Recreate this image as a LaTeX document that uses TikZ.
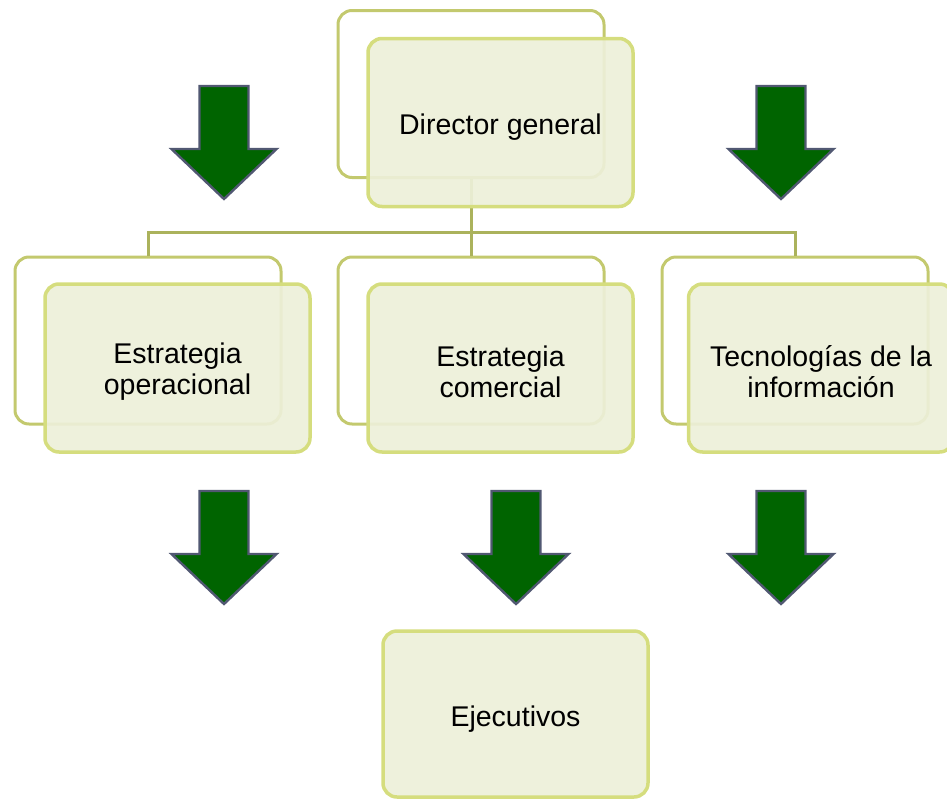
\documentclass[tikz,border=0pt]{standalone}
\usepackage{fontspec}
\setmainfont{Liberation Sans}
\definecolor{backline}{HTML}{C3C96E}
\definecolor{frontline}{HTML}{D5DD7E}
\definecolor{boxfill}{HTML}{EDF0D9}
\definecolor{busline}{HTML}{ABB25C}
\definecolor{arrfill}{HTML}{006400}
\definecolor{arrline}{HTML}{515872}
\tikzset{
  backbox/.style={draw=backline, line width=3pt, rounded corners=14pt, minimum width=266pt, minimum height=167pt, inner sep=0pt},
  frontbox/.style={draw=frontline, line width=3.5pt, rounded corners=14pt, fill=boxfill, fill opacity=0.92, minimum width=265pt, minimum height=168pt, inner sep=0pt},
  boxtext/.style={align=center, font=\fontsize{28.5}{31}\selectfont, inner sep=0pt},
  bus/.style={draw=busline, line width=3pt},
  arrowshape/.style={fill=arrfill, draw=arrline, line width=2.4pt, line join=miter},
  downarrow/.pic={\path[arrowshape] (-24.5,0) -- (24.5,0) -- (24.5,63) -- (52.5,63) -- (0,113) -- (-52.5,63) -- (-24.5,63) -- cycle;}
}
\begin{document}
\begin{tikzpicture}[x=1pt,y=-1pt]
\useasboundingbox (0,0) rectangle (947,798);
% back boxes
\node[backbox] (dgb) at (471,94) {};
\node[backbox] (eob) at (148,340.5) {};
\node[backbox] (ecb) at (471,340.5) {};
\node[backbox] (tib) at (795,340.5) {};
% connectors
\coordinate (bus) at (0,232);
\draw[bus] (dgb.south) -- (dgb.south |- bus);
\draw[bus] (eob.north) -- (eob.north |- bus) -- (tib.north |- bus) -- (tib.north);
\draw[bus] (ecb.north) -- (ecb.north |- bus);
% front boxes
\node[frontbox] (dg) at (500.5,122.5) {};
\node[frontbox] (eo) at (177.5,368) {};
\node[frontbox] (ec) at (500.5,368) {};
\node[frontbox] (ti) at (821,368) {};
\node[frontbox, minimum height=166pt] (ej) at (515.5,714) {};
% texts
\node[boxtext] (dgt) at ([yshift=-5pt]dg.center) {Director general};
\node[boxtext] (eot) at ([yshift=-4pt]eo.center) {Estrategia\\operacional};
\node[boxtext] (ect) at ([yshift=-4pt]ec.center) {Estrategia\\comercial};
\node[boxtext] (tit) at ([yshift=-4pt]ti.center) {Tecnologías de la\\información};
\node[boxtext] (ejt) at ([yshift=-5pt]ej.center) {Ejecutivos};
% arrows
\pic at (224,86) {downarrow};
\pic at (781,86) {downarrow};
\pic at (224,491) {downarrow};
\pic at (516,491) {downarrow};
\pic at (781,491) {downarrow};
\end{tikzpicture}
\end{document}
